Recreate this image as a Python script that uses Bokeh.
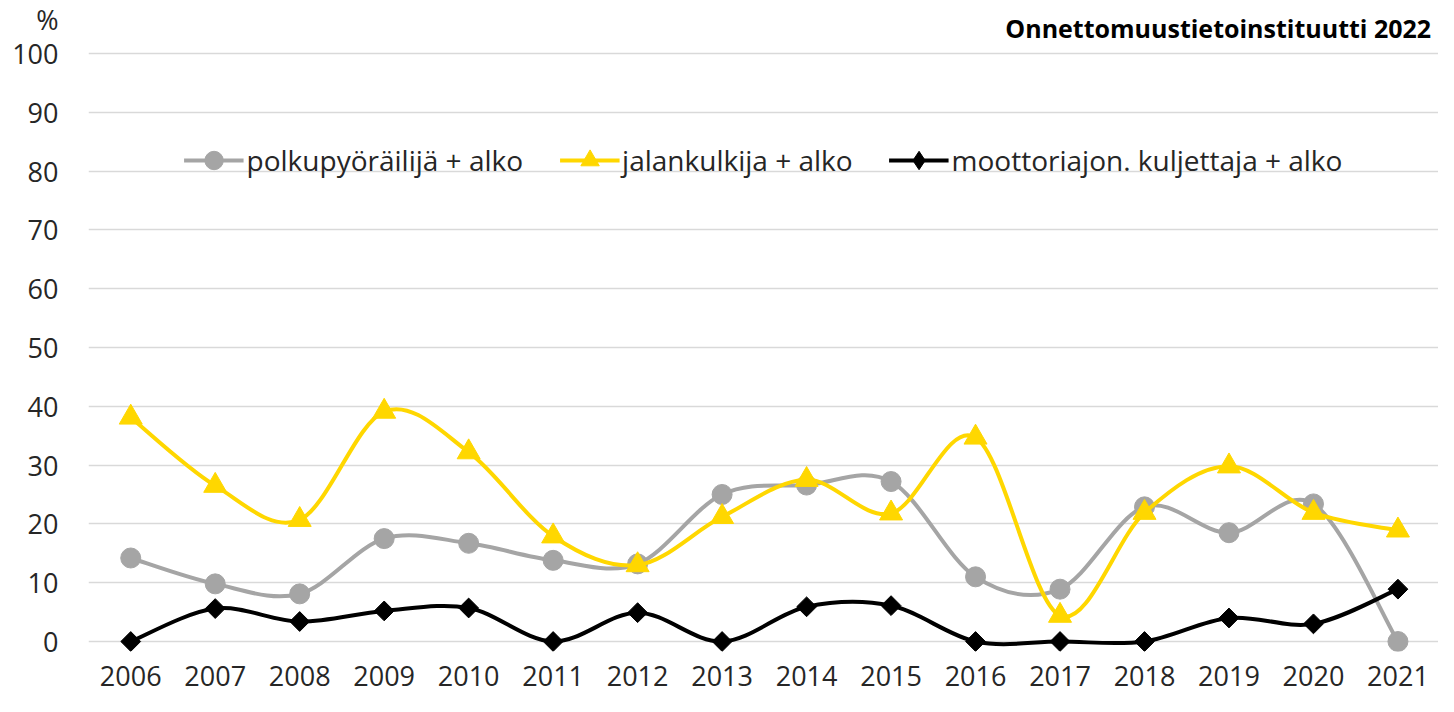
from bokeh.plotting import figure
from bokeh.models import Range1d, FixedTicker, Legend, LegendItem, Label
from bokeh.embed import file_html
from bokeh.resources import INLINE
import math

years = list(range(2006, 2022))
polku = [14.2, 9.8, 8.1, 17.5, 16.7, 13.8, 13.2, 25.0, 26.6, 27.2, 11.0, 8.9, 22.9, 18.5, 23.4, 0.0]
jalan = [38.1, 26.5, 20.7, 39.1, 32.2, 17.9, 13.0, 21.2, 27.5, 21.8, 34.7, 4.4, 21.9, 29.8, 21.9, 18.9]
moot = [0.0, 5.6, 3.4, 5.2, 5.7, 0.0, 4.9, 0.0, 5.9, 6.1, 0.0, 0.0, 0.0, 4.0, 3.0, 8.9]
y_ticks = [0, 10, 20, 30, 40, 50, 60, 70, 80, 90, 100]
names = ["polkupyöräilijä + alko", "jalankulkija + alko", "moottoriajon. kuljettaja + alko"]
unit_label = "%"
source_text = "Onnettomuustietoinstituutti  2022"

FONT = "Open Sans"
TXT = "#262626"

PCT_POS = 106  # where the unit label sits on the y axis

p = figure(width=1438, height=696, min_border_left=88, min_border_top=0,
           min_border_right=0, min_border_bottom=45,
           x_range=Range1d(2005.5, 2021.48), y_range=Range1d(-1.7, 109.0),
           output_backend="svg", toolbar_location=None, background_fill_color="white",
           border_fill_color="white")
p.outline_line_color = None

p.xaxis.ticker = FixedTicker(ticks=years)
p.yaxis.ticker = FixedTicker(ticks=y_ticks + [PCT_POS])
p.yaxis.major_label_overrides = {PCT_POS: unit_label}
for ax in (p.xaxis, p.yaxis):
    ax.axis_line_color = None
    ax.major_tick_line_color = None
    ax.minor_tick_line_color = None
    ax.major_tick_out = 0
    ax.major_tick_in = 0
    ax.major_label_text_font = FONT
    ax.major_label_text_font_size = "27px"
    ax.major_label_text_color = TXT
p.xaxis.major_label_standoff = 14
p.yaxis.major_label_standoff = 30
p.xgrid.grid_line_color = None
p.ygrid.ticker = FixedTicker(ticks=y_ticks)
p.ygrid.grid_line_color = "#D9D9D9"
p.ygrid.grid_line_width = 1.5


def smooth(xs, ys):
    n = len(xs)
    x0, y0, x1, y1, cx0, cy0, cx1, cy1 = [], [], [], [], [], [], [], []
    for i in range(n - 1):
        im = max(i - 1, 0)
        ip2 = min(i + 2, n - 1)
        x0.append(xs[i]); y0.append(ys[i])
        x1.append(xs[i + 1]); y1.append(ys[i + 1])
        cx0.append(xs[i] + (xs[i + 1] - xs[im]) / 6.0)
        cy0.append(ys[i] + (ys[i + 1] - ys[im]) / 6.0)
        cx1.append(xs[i + 1] - (xs[ip2] - xs[i]) / 6.0)
        cy1.append(ys[i + 1] - (ys[ip2] - ys[i]) / 6.0)
    return dict(x0=x0, y0=y0, x1=x1, y1=y1, cx0=cx0, cy0=cy0, cx1=cx1, cy1=cy1)


# (values, colour, plot marker, size, angle, legend marker, legend size)
series = [
    (polku, "#A5A5A5", "circle", 20, 0.0, "circle", 20),
    (jalan, "#FFD700", "triangle", 23, 0.0, "triangle", 23),
    (moot, "#000000", "square", 14, math.pi / 4, "diamond", 20),
]
items = []
for (vals, col, mk, sz, ang, lmk, lsz), name in zip(series, names):
    p.bezier(line_color=col, line_width=4, **smooth(years, vals))
    dummy = p.line(x=[math.nan], y=[math.nan], line_color=col, line_width=4)
    p.scatter(x=years, y=vals, marker=mk, size=sz, angle=ang,
              fill_color=col, line_color=col)
    leg_mk = p.scatter(x=[math.nan], y=[math.nan], marker=lmk, size=lsz,
                       fill_color=col, line_color=col)
    items.append(LegendItem(label=name, renderers=[dummy, leg_mk]))

legend = Legend(items=items, orientation="horizontal", location="top_center",
                label_text_font=FONT, label_text_font_size="28px", label_text_color=TXT,
                glyph_width=60, glyph_height=46, label_standoff=3, spacing=36,
                border_line_color=None, background_fill_alpha=0, margin=137, padding=0)
p.add_layout(legend, "center")

p.add_layout(Label(x=2021.47, y=104.25, text=source_text, text_font=FONT, text_font_size="25px",
                   text_font_style="bold", text_color="#000000", text_align="right",
                   text_baseline="middle"))

open("out.html", "w").write(file_html(p, INLINE))
